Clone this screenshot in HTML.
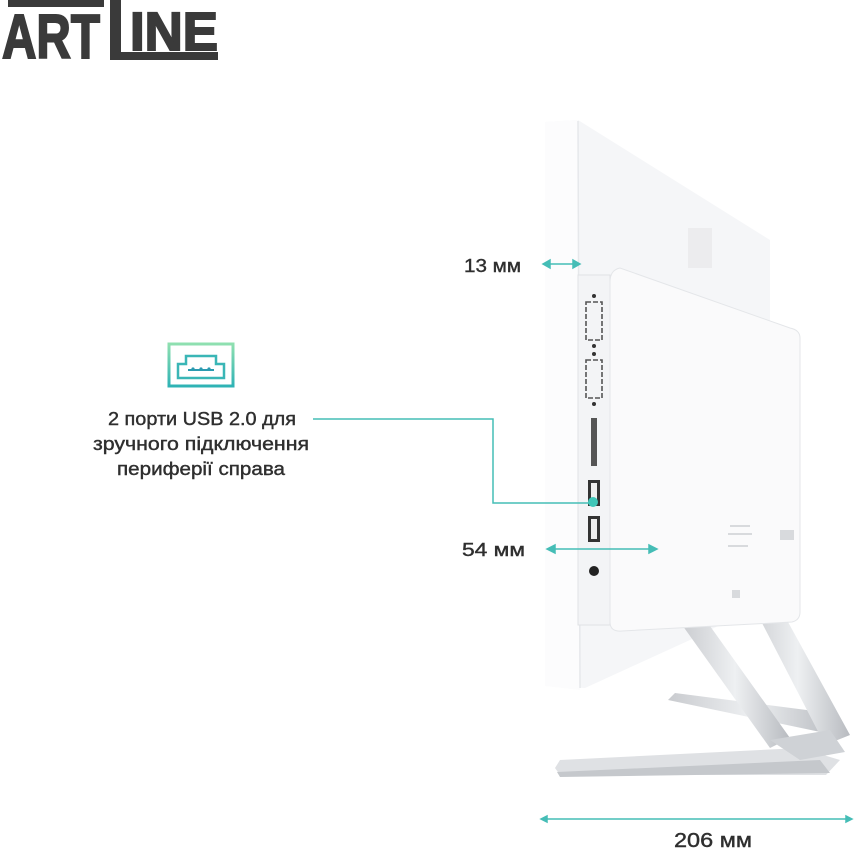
<!DOCTYPE html>
<html><head><meta charset="utf-8"><style>
html,body{margin:0;padding:0;background:#fff;}
body{width:856px;height:849px;position:relative;overflow:hidden;font-family:"Liberation Sans",sans-serif;}
</style></head><body>
<svg width="856" height="849" viewBox="0 0 856 849" xmlns="http://www.w3.org/2000/svg" style="position:absolute;left:0;top:0">
<defs>
<linearGradient id="ic" x1="0" y1="0" x2="0" y2="1"><stop offset="0" stop-color="#8fe0b0"/><stop offset="1" stop-color="#2fb3b5"/></linearGradient>
<linearGradient id="leg" x1="0" y1="0" x2="1" y2="0"><stop offset="0" stop-color="#c9cbcf"/><stop offset="0.5" stop-color="#eef0f2"/><stop offset="1" stop-color="#b8bbc0"/></linearGradient>
</defs>
<!-- logo -->
<g fill="#3a3a3a" stroke="#3a3a3a">
<rect x="8" y="0" width="96" height="7" stroke="none"/>
<text x="2" y="58" font-family="Liberation Sans" font-weight="bold" font-size="62" stroke-width="2" textLength="98" lengthAdjust="spacingAndGlyphs">ART</text>
<rect x="110" y="0" width="11" height="60" stroke="none"/>
<text x="130" y="50" font-family="Liberation Sans" font-weight="bold" font-size="54" stroke-width="2" textLength="88" lengthAdjust="spacingAndGlyphs">INE</text>
<rect x="110" y="52" width="108" height="8" stroke="none"/>
</g>
<!-- legs behind -->
<polygon points="668,700 675,693 822,712 835,725 825,733" fill="url(#leg)"/>
<polygon points="555,768 560,760 800,748 840,760 826,775 560,775" fill="#dfe1e4"/>
<polygon points="557,772 820,760 830,773 560,777" fill="#c5c8cc"/>
<!-- monitor outer panel -->
<polygon points="545,122 578,120 770,240 770,600 690,640 585,688 545,686" fill="#f5f6f8"/>
<polygon points="545,122 578,120 580,690 545,686" fill="#fcfcfd"/>
<line x1="578" y1="121" x2="580" y2="688" stroke="#e6e8eb" stroke-width="1.5"/>
<rect x="688" y="228" width="24" height="40" fill="#ececee"/>
<!-- legs front -->
<polygon points="680,622 700,612 790,738 770,748" fill="url(#leg)"/>
<polygon points="745,590 765,580 850,735 825,745" fill="url(#leg)"/>
<polygon points="770,740 830,730 845,752 800,760" fill="#cfd2d6"/>
<!-- port strip -->
<rect x="578" y="275" width="32" height="350" fill="#f3f4f6" stroke="#e0e2e5"/>
<g fill="none" stroke="#555" stroke-width="1.6" stroke-dasharray="5 2">
<rect x="586" y="302" width="16" height="38"/>
<rect x="586" y="360" width="16" height="38"/>
</g>
<g fill="#333"><circle cx="594" cy="296" r="2"/><circle cx="594" cy="346" r="2"/><circle cx="594" cy="354" r="2"/><circle cx="594" cy="404" r="2"/></g>
<rect x="591" y="418" width="6" height="48" fill="#555"/>
<rect x="588" y="480" width="12" height="26" fill="#333"/><rect x="591" y="483" width="6" height="20" fill="#eee"/>
<rect x="588" y="516" width="12" height="26" fill="#333"/><rect x="591" y="519" width="6" height="20" fill="#eee"/>
<circle cx="594" cy="571" r="5" fill="#222"/>
<!-- back cover -->
<path d="M620,268 Q610,270 610,282 L610,622 Q610,632 622,631 L792,622 Q800,620 800,612 L800,338 Q800,330 790,328 Z" fill="#fafafb" stroke="#e4e6e9"/>
<g fill="#d8dadd"><rect x="730" y="525" width="20" height="2"/><rect x="728" y="533" width="24" height="2"/><rect x="728" y="545" width="20" height="2"/><rect x="732" y="590" width="8" height="8"/><rect x="780" y="530" width="14" height="10"/></g>
<!-- teal annotations -->
<g stroke="#45bdb6" stroke-width="1.5" fill="#45bdb6">
<line x1="547" y1="264" x2="576" y2="264"/>
<polygon points="543,264 550,260 550,268"/><polygon points="580,264 573,260 573,268"/>
<line x1="551" y1="549" x2="652" y2="549"/>
<polygon points="547,549 555,545 555,553"/><polygon points="657,549 649,545 649,553"/>
<line x1="545" y1="819" x2="848" y2="819"/>
<polygon points="541,819 547,816 547,822"/><polygon points="852,819 846,816 846,822"/>
<polyline points="313,419 493,419 493,503 592,503" fill="none"/>
</g>
<circle cx="593" cy="502" r="5" fill="#3fc6b8"/>
<!-- icon -->
<rect x="169" y="344" width="64" height="42" fill="none" stroke="url(#ic)" stroke-width="3"/>
<path d="M178,378 L178,364 L186,364 L186,356 L216,356 L216,364 L224,364 L224,378 Z" fill="none" stroke="#3ab6b6" stroke-width="2.5"/>
<line x1="188" y1="370" x2="214" y2="370" stroke="#2a9ab0" stroke-width="2"/>
<g fill="#2a9ab0"><circle cx="193" cy="369" r="1.6"/><circle cx="201" cy="369" r="1.6"/><circle cx="209" cy="369" r="1.6"/></g>
<!-- labels -->
<g font-family="Liberation Sans, sans-serif" fill="#2f2f2f" font-size="18" stroke="#2f2f2f" stroke-width="0.4">
<text x="464" y="272" textLength="57" lengthAdjust="spacingAndGlyphs">13 мм</text>
<text x="462" y="556" textLength="63" lengthAdjust="spacingAndGlyphs">54 мм</text>
<text x="674" y="847" font-size="20" textLength="78" lengthAdjust="spacingAndGlyphs">206 мм</text>
<text x="108" y="425" textLength="188" lengthAdjust="spacingAndGlyphs">2 порти USB 2.0 для</text>
<text x="93" y="450" textLength="216" lengthAdjust="spacingAndGlyphs">зручного підключення</text>
<text x="117" y="475" textLength="168" lengthAdjust="spacingAndGlyphs">периферії справа</text>
</g>
</svg>
</body></html>
